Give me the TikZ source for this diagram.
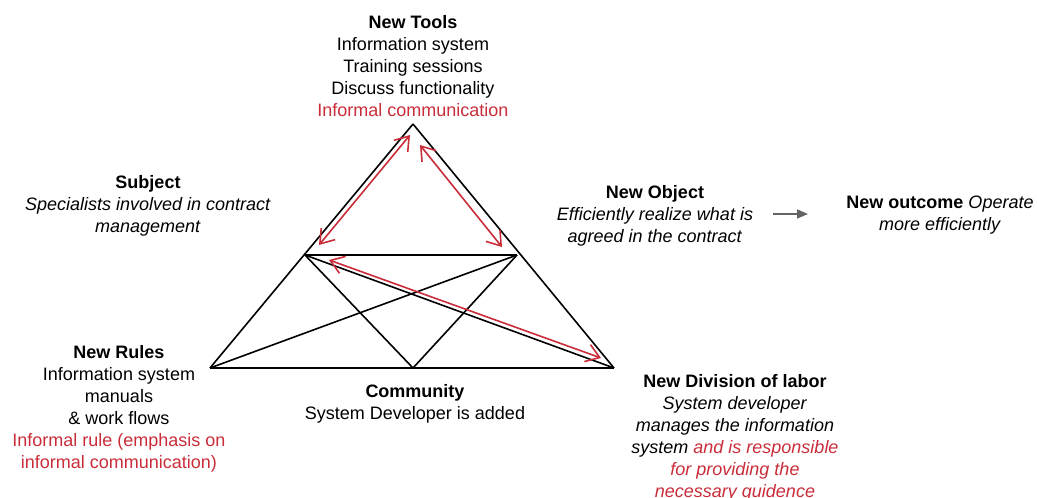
\documentclass[tikz,border=0pt]{standalone}
\usepackage{fontspec}
\setmainfont{Liberation Sans}
\usetikzlibrary{arrows.meta}
\definecolor{infred}{RGB}{201,45,57}
\definecolor{outgrey}{RGB}{100,100,100}

\begin{document}
\begin{tikzpicture}[x=1pt,y=-1pt,
	lbl/.style={anchor=north,inner sep=0pt,align=center,font={\fontsize{18}{22}\selectfont}},
	tri/.style={draw=black,line width=1.6pt,line join=round},
	talk/.style={draw=infred,line width=1.6pt,{Straight Barb[length=13pt,width=18pt]}-{Straight Barb[length=13pt,width=18pt]}},
	toout/.style={draw=outgrey,line width=1.6pt,-{Triangle[length=11pt,width=9pt]}}]
	
	\useasboundingbox (0,0) rectangle (1037,498);
	
	% corners of the activity triangle
	\coordinate (top) at (413, 124);
	\coordinate (ml) at (305, 255);
	\coordinate (mr) at (517, 255);
	\coordinate (bl) at (210, 368);
	\coordinate (bm) at (413, 368);
	\coordinate (br) at (614, 368);
	
	\path[tri] (top) edge (bl);
	\path[tri] (top) edge (br);
	\path[tri] (bl) edge (br);
	\path[tri] (ml) edge (mr);
	\path[tri] (bl) edge (mr);
	\path[tri] (ml) edge (br);
	\path[tri] (ml) edge (bm);
	\path[tri] (mr) edge (bm);
	
	% informal communication
	\coordinate (t1) at (410, 135);
	\coordinate (s1) at (319, 245);
	\coordinate (t2) at (420, 145);
	\coordinate (o2) at (502, 247);
	\coordinate (s3) at (329, 260);
	\coordinate (d3) at (601, 358);
	
	\draw[talk] (t1) -- (s1);
	\draw[talk] (t2) -- (o2);
	\draw[talk] (s3) -- (d3);
	
	\node[lbl] (tools) at (413, 15) {\textbf{New Tools}\\Information system\\Training sessions\\Discuss functionality\\\textcolor{infred}{Informal communication}};
	\node[lbl] (subject) at (148, 175) {\textbf{Subject}\\\textit{Specialists involved in contract}\\\textit{management}};
	\node[lbl] (object) at (655, 185) {\textbf{New Object}\\\textit{Efficiently realize what is}\\\textit{agreed in the contract}};
	\node[lbl] (outcome) at (940, 196) {\textbf{New outcome} \textit{Operate}\\\textit{more efficiently}};
	\node[lbl] (rules) at (119, 345) {\textbf{New Rules}\\Information system\\manuals\\\& work flows\\\textcolor{infred}{Informal rule (emphasis on}\\\textcolor{infred}{informal communication)}};
	\node[lbl] (community) at (415, 384) {\textbf{Community}\\System Developer is added};
	\node[lbl] (division) at (735, 374) {\textbf{New Division of labor}\\\textit{System developer}\\\textit{manages the information}\\\textit{system \textcolor{infred}{and is responsible}}\\\textit{\textcolor{infred}{for providing the}}\\\textit{\textcolor{infred}{necessary guidence}}};
	
	\coordinate (a1) at (773, 214);
	\coordinate (a2) at (808, 214);
	\draw[toout] (a1) -- (a2);
	
\end{tikzpicture}
\end{document}
